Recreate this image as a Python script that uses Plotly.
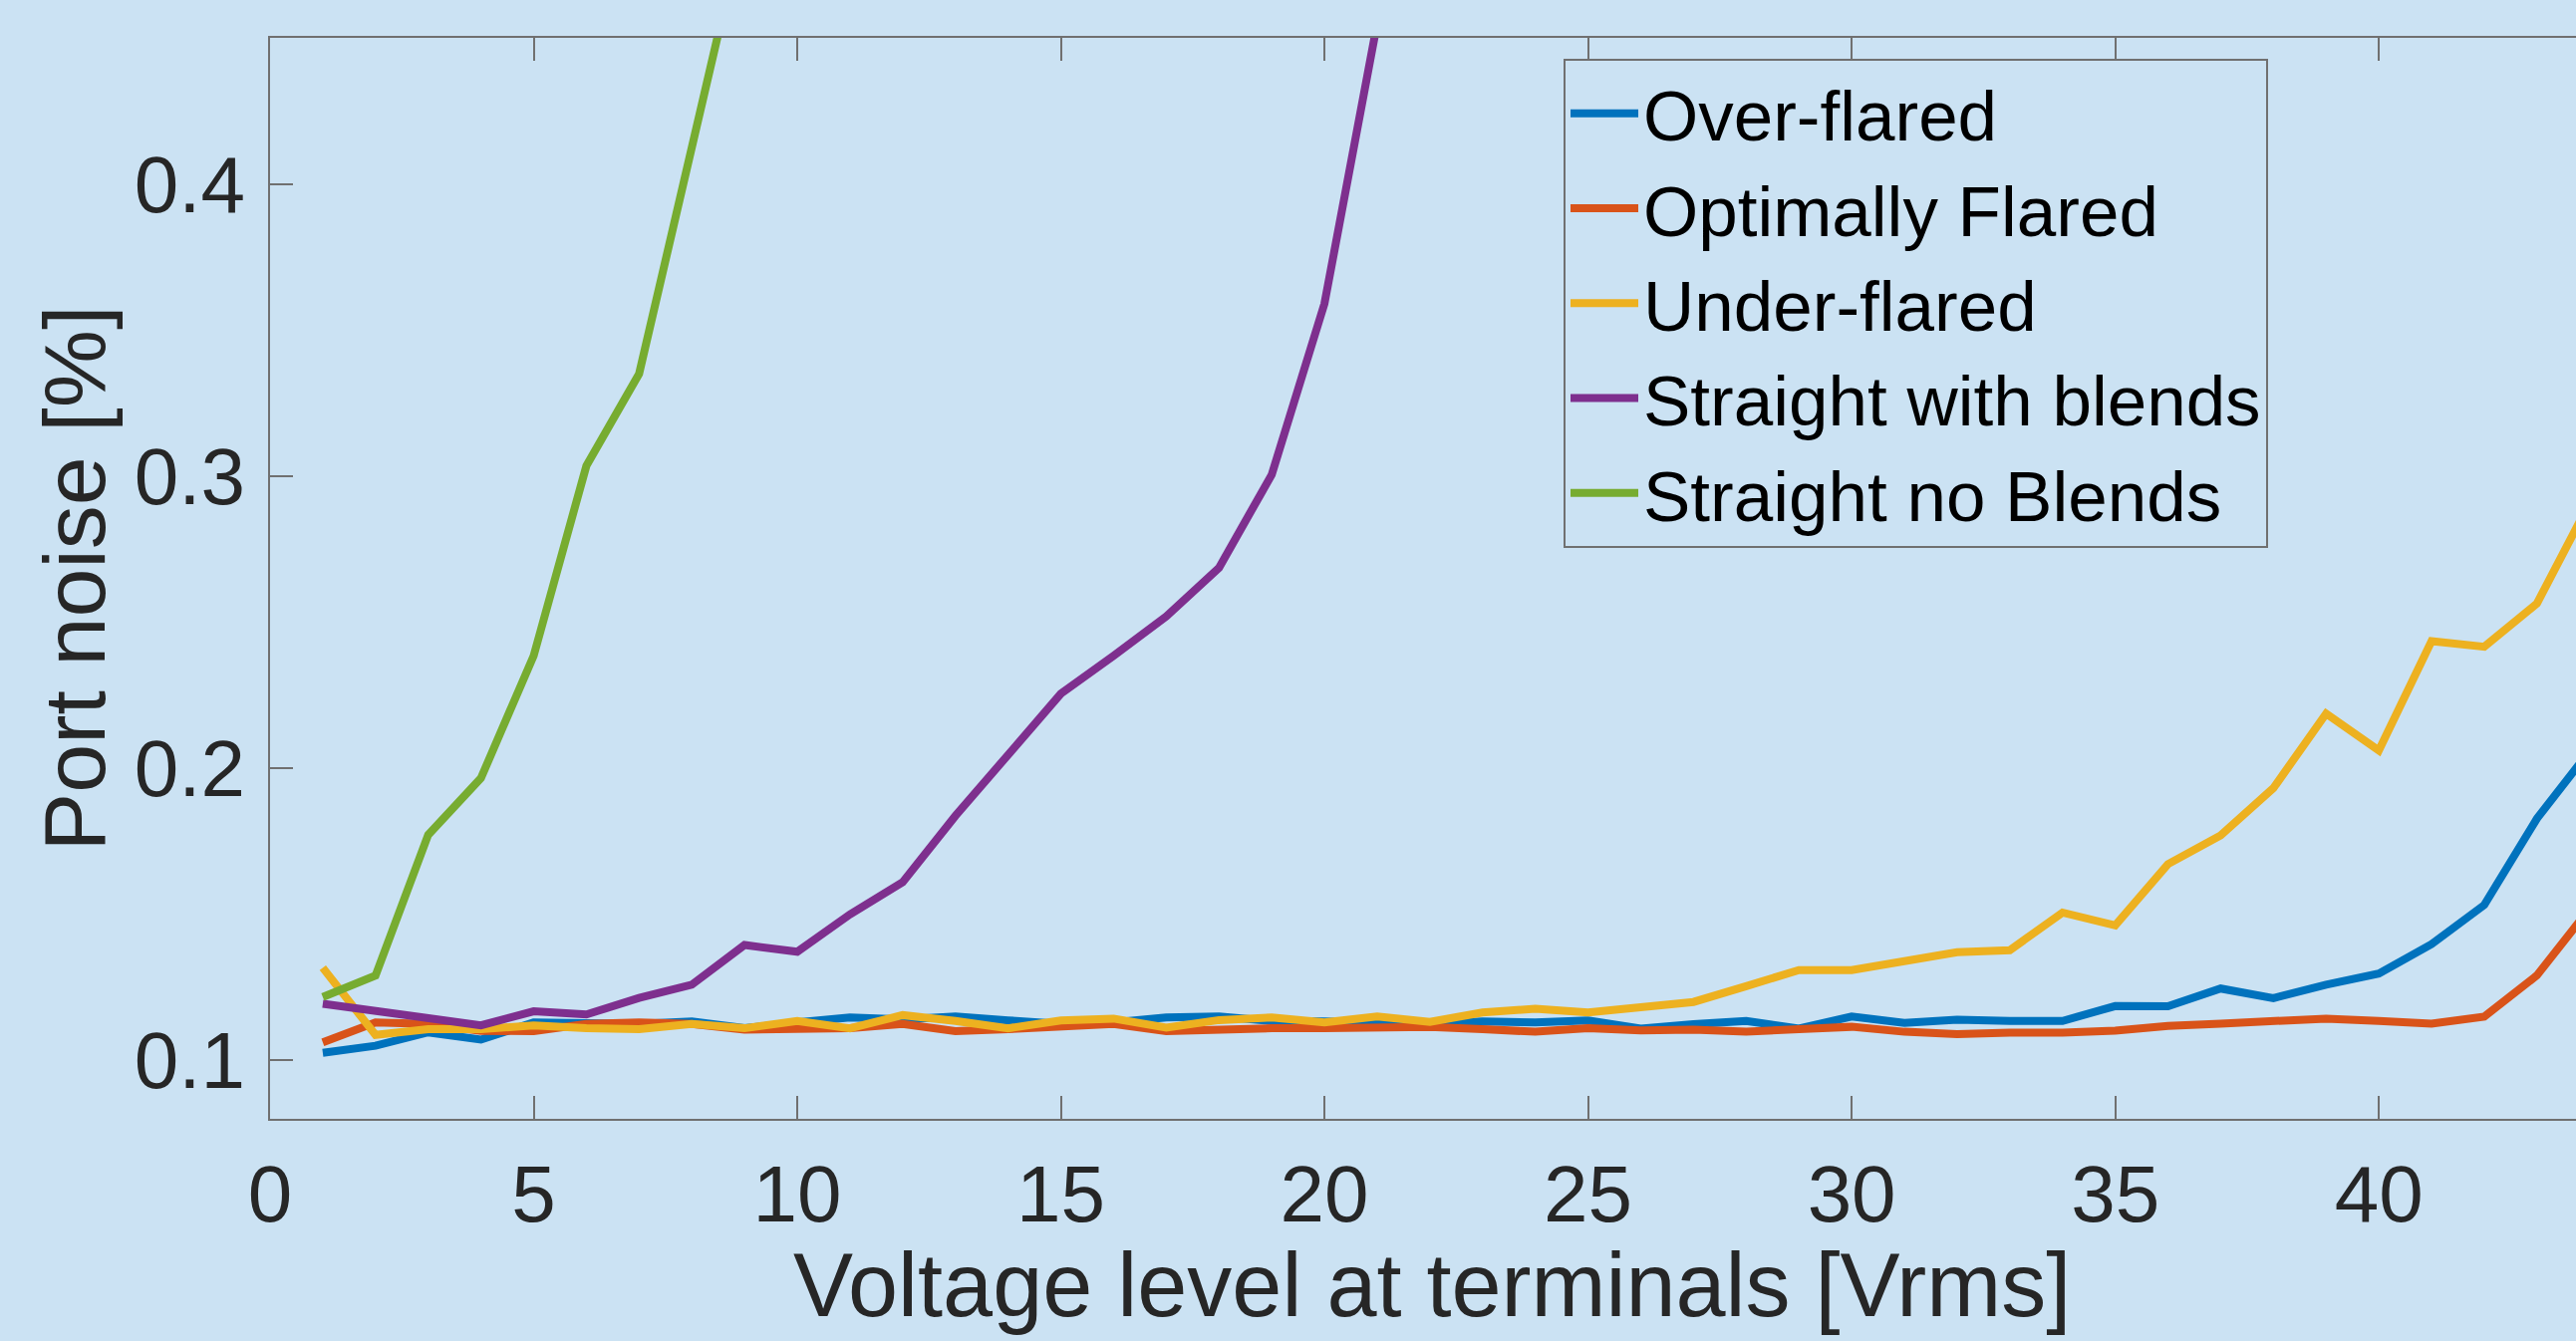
import plotly.graph_objects as go

# ---- data ----
voltage = list(range(1, 45))

over_flared = [0.1026, 0.105, 0.1096, 0.1071, 0.113, 0.1125, 0.1125, 0.1133, 0.111, 0.113,
               0.1147, 0.114, 0.115, 0.1137, 0.1125, 0.113, 0.1147, 0.115, 0.1135, 0.1133,
               0.113, 0.1125, 0.1133, 0.113, 0.1137, 0.1109, 0.1124, 0.1135, 0.1109, 0.115,
               0.1128, 0.1139, 0.1135, 0.1135, 0.1186, 0.1185, 0.1246, 0.1213, 0.1259, 0.1297,
               0.1398, 0.1532, 0.1828, 0.206]

optimally_flared = [0.1062, 0.113, 0.1125, 0.1101, 0.110, 0.1125, 0.113, 0.1125, 0.1105, 0.111,
                    0.111, 0.1125, 0.110, 0.1107, 0.1115, 0.1125, 0.110, 0.1107, 0.111, 0.111,
                    0.111, 0.1115, 0.1107, 0.1098, 0.111, 0.1103, 0.1105, 0.1098, 0.1107, 0.1115,
                    0.1098, 0.109, 0.1095, 0.1095, 0.1102, 0.1118, 0.1126, 0.1135, 0.1143, 0.1135,
                    0.1126, 0.115, 0.1291, 0.152]

under_flared = [0.1317, 0.1087, 0.1107, 0.1107, 0.112, 0.111, 0.1107, 0.1125, 0.111, 0.1135,
                0.111, 0.1155, 0.1135, 0.111, 0.1137, 0.1143, 0.1112, 0.1138, 0.1147, 0.113,
                0.115, 0.1132, 0.1164, 0.1177, 0.1164, 0.118, 0.12, 0.1254, 0.1309, 0.1309,
                0.134, 0.137, 0.1377, 0.1506, 0.1462, 0.1672, 0.177, 0.1932, 0.2187, 0.2061,
                0.2435, 0.2416, 0.2564, 0.291]

voltage_blends = list(range(1, 23))
straight_with_blends = [0.1194, 0.117, 0.1145, 0.112, 0.1168, 0.1157, 0.1214, 0.1259, 0.1395, 0.1372,
                        0.150, 0.161, 0.1837, 0.2045, 0.2255, 0.2385, 0.252, 0.2686, 0.3005, 0.359,
                        0.455, 0.60]

voltage_noblends = list(range(1, 10))
straight_no_blends = [0.1217, 0.129, 0.1772, 0.1966, 0.2385, 0.3035, 0.335, 0.415, 0.49]

x_ticks = [0, 5, 10, 15, 20, 25, 30, 35, 40]
y_ticks = [0.1, 0.2, 0.3, 0.4]
y_tick_labels = ["0.1", "0.2", "0.3", "0.4"]

x_title = "Voltage level at terminals [Vrms]"
y_title = "Port noise [%]"

series = [
    ("Over-flared", voltage, over_flared, "#0072BD"),
    ("Optimally Flared", voltage, optimally_flared, "#D95319"),
    ("Under-flared", voltage, under_flared, "#EDB120"),
    ("Straight with blends", voltage_blends, straight_with_blends, "#7E2F8E"),
    ("Straight no Blends", voltage_noblends, straight_no_blends, "#77AC30"),
]

BG = "#CBE2F3"
AXIS = "#707070"
FONT = "Liberation Sans, Arial, Helvetica, sans-serif"

fig = go.Figure()
for name, xs, ys, col in series:
    fig.add_trace(go.Scatter(x=xs, y=ys, mode="lines", name=name,
                             line=dict(color=col, width=8)))

W, H = 2585, 1346
L, T, B = 271, 38, 223
PW, PH = W - L, H - T - B

fig.update_layout(
    width=W, height=H,
    margin=dict(l=L, r=0, t=T, b=B, autoexpand=False),
    paper_bgcolor=BG, plot_bgcolor=BG,
    font=dict(family=FONT, color="#262626"),
    showlegend=True,
    legend=dict(
        x=(1569 - L) / PW, y=(H - B - 59) / PH,
        xanchor="left", yanchor="top",
        bgcolor=BG, bordercolor=AXIS, borderwidth=2,
        font=dict(family=FONT, size=71, color="#000000"),
        itemwidth=68, tracegroupgap=0,
    ),
    xaxis=dict(
        range=[0, 43.74], tickvals=x_ticks, ticks="inside", ticklen=23, tickwidth=2,
        tickcolor=AXIS, showline=True, linecolor=AXIS, linewidth=2, mirror="ticks",
        showgrid=False, zeroline=False, ticklabelstandoff=5,
        tickfont=dict(family=FONT, size=80, color="#262626"),
    ),
    yaxis=dict(
        range=[0.08, 0.45], tickvals=y_ticks, ticktext=y_tick_labels, ticks="inside",
        ticklen=23, tickwidth=2, tickcolor=AXIS, showline=True, linecolor=AXIS,
        linewidth=2, mirror=False, showgrid=False, zeroline=False, ticklabelstandoff=7,
        tickfont=dict(family=FONT, size=80, color="#262626"),
        title=dict(text=y_title,
                   font=dict(family=FONT, size=88, color="#262626"), standoff=0),
    ),
    annotations=[dict(
        text=x_title, xref="paper", yref="paper",
        x=(1437 - L) / PW, y=(H - B - 1290) / PH,
        xanchor="center", yanchor="middle", showarrow=False,
        font=dict(family=FONT, size=90, color="#262626"),
    )],
)

fig.write_html(
    "out.html",
    config={"displayModeBar": False},
    post_script=(
        "document.documentElement.style.margin='0';"
        "document.body.style.margin='0';"
        "document.body.style.padding='0';"
        "document.body.style.overflow='hidden';"
        "document.body.style.background='" + BG + "';"
    ),
)
